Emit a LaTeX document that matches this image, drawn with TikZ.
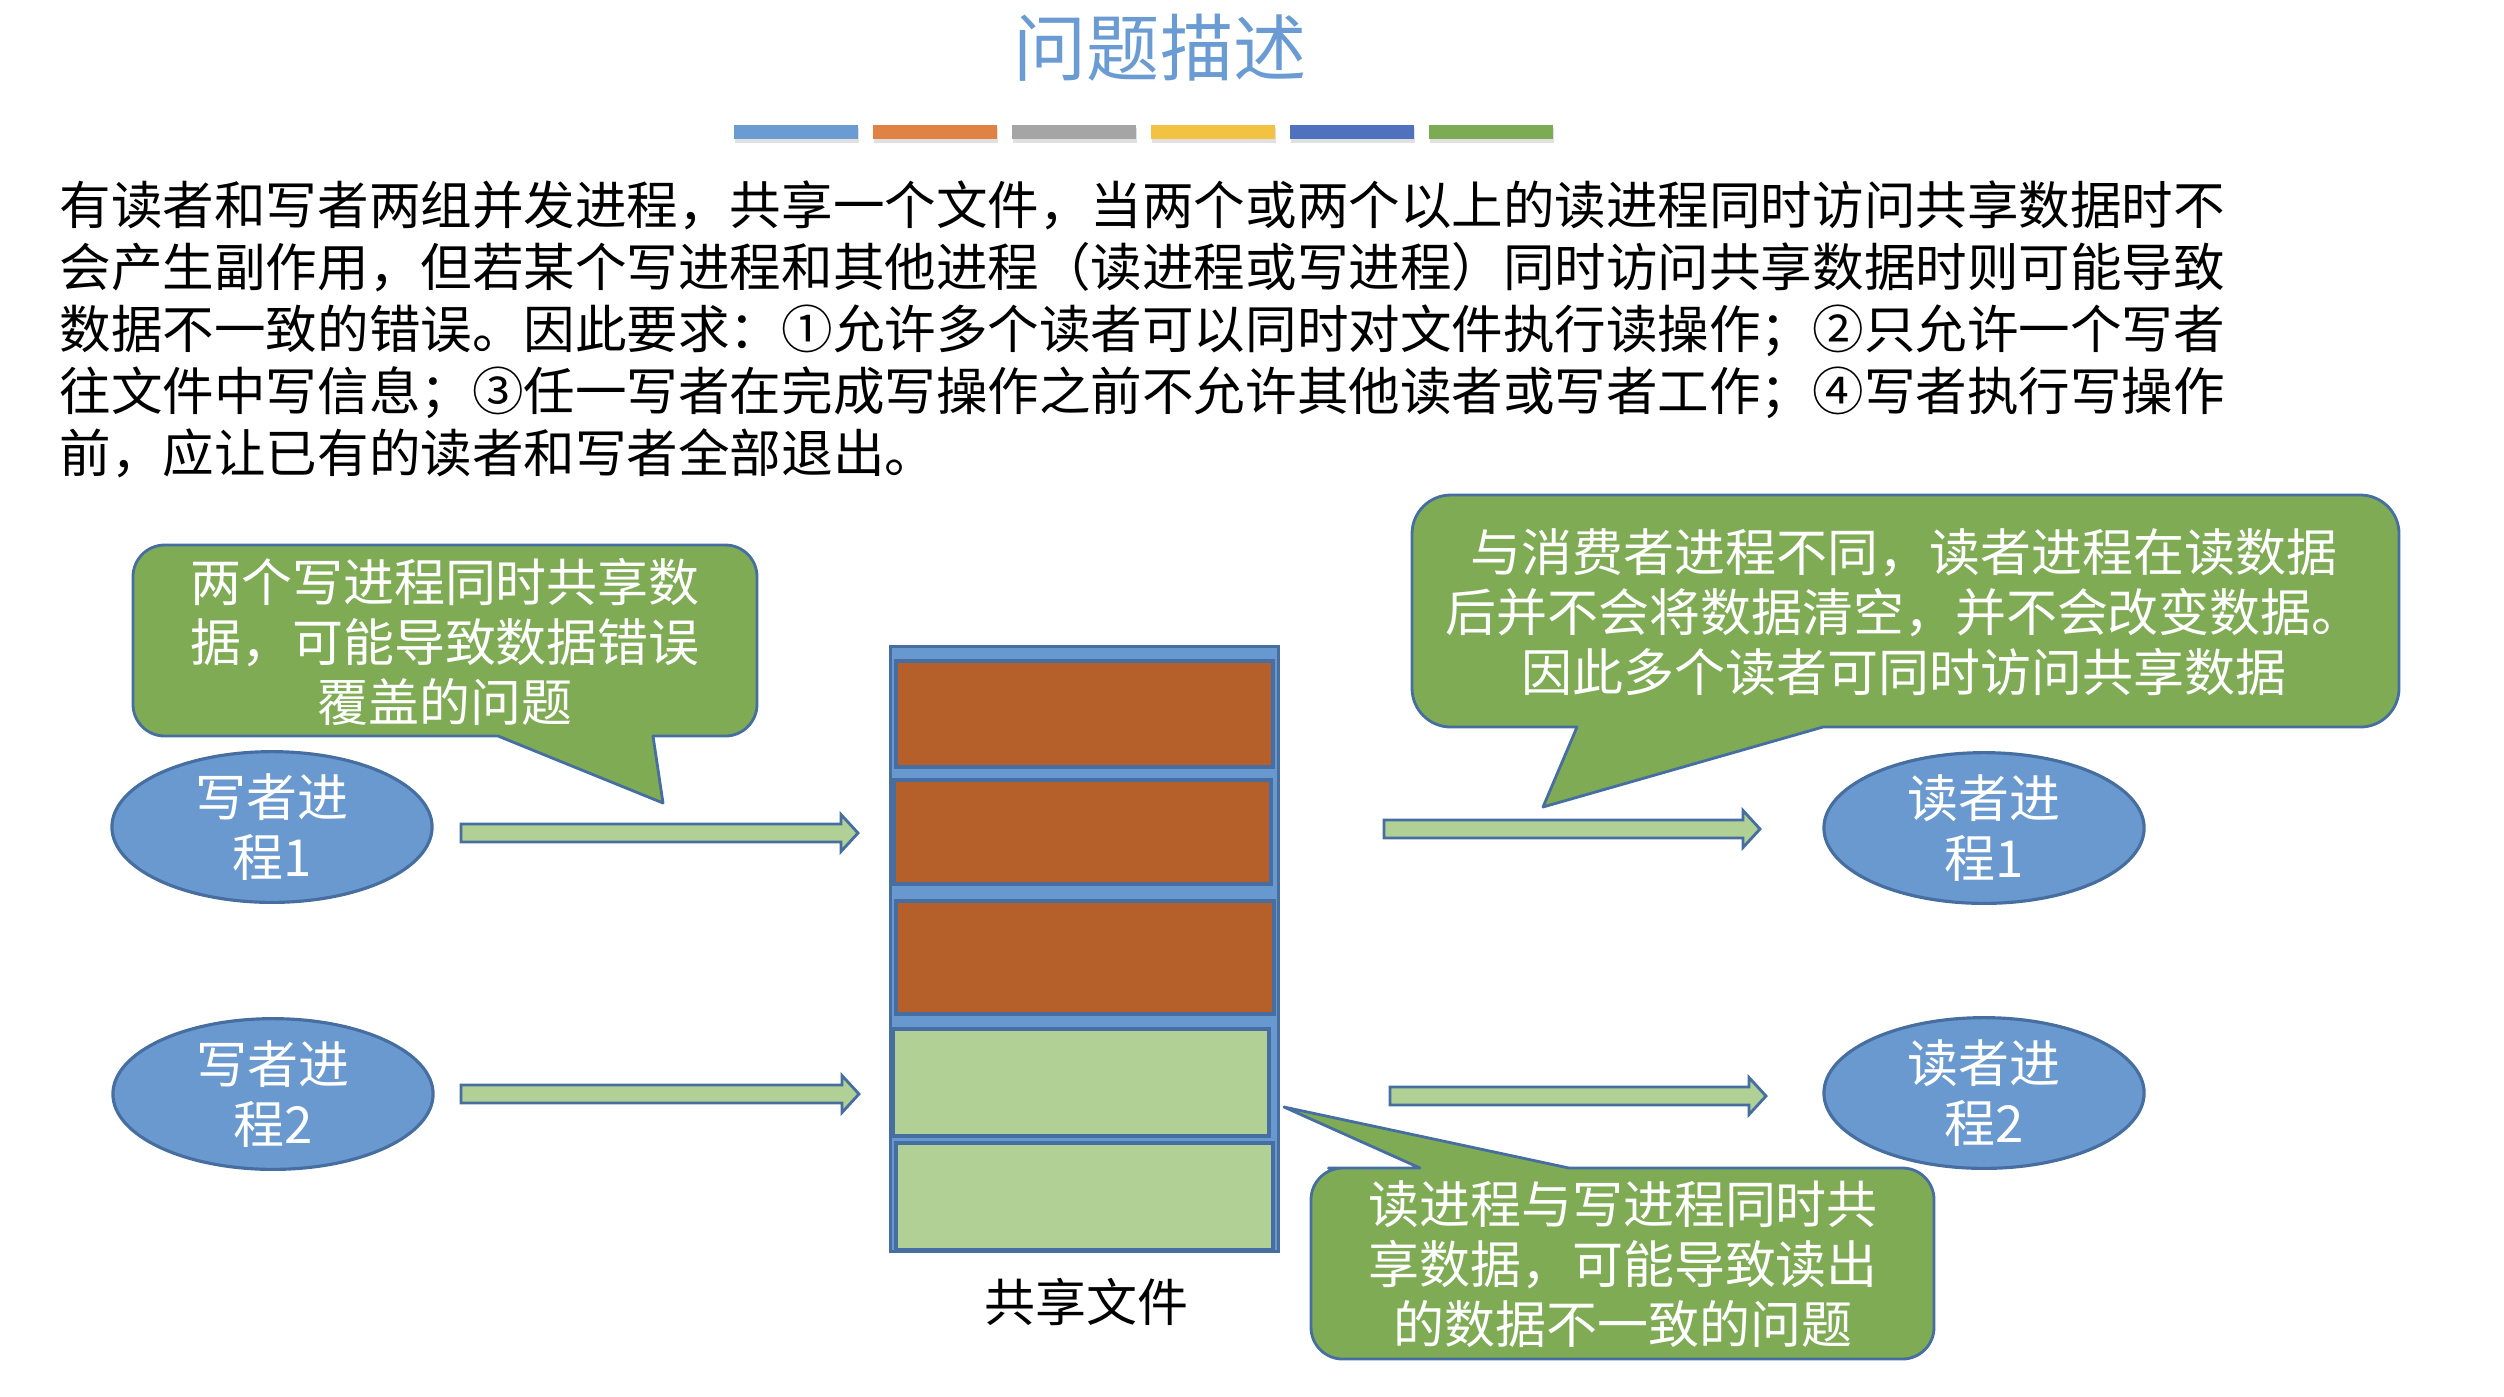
\documentclass[tikz,border=0pt]{standalone}
\usepackage{fontspec}
\setmainfont{Noto Sans CJK SC}
\usetikzlibrary{shapes.geometric,calc}
\definecolor{titleblue}{RGB}{106,155,210}
\definecolor{barA}{RGB}{106,155,210}
\definecolor{barB}{RGB}{224,130,67}
\definecolor{barC}{RGB}{165,165,165}
\definecolor{barD}{RGB}{243,194,66}
\definecolor{barE}{RGB}{79,113,190}
\definecolor{barF}{RGB}{125,171,84}
\definecolor{callgreen}{RGB}{127,171,85}
\definecolor{edgeblue}{RGB}{70,110,160}
\definecolor{ellblue}{RGB}{106,153,207}
\definecolor{arrgreen}{RGB}{176,208,150}
\definecolor{filebrown}{RGB}{181,96,43}
\definecolor{slotgreen}{RGB}{177,208,150}
\definecolor{stackblue}{RGB}{104,152,208}
\newcommand\blockarrow[2]{%
  \draw[barrowsty] ($(#1)+(0,-9)$) -- ($(#2)+(-17,-9)$) -- ($(#2)+(-17,-18.5)$)
    -- (#2) -- ($(#2)+(-17,18.5)$) -- ($(#2)+(-17,9)$) -- ($(#1)+(0,9)$) -- cycle;}
\begin{document}
\begin{tikzpicture}[x=0.01cm,y=-0.01cm,
  txt/.style={font=\fontsize{14.5}{17}\selectfont, inner sep=0pt, align=center},
  wtxt/.style={txt, text=white},
  ptxt/.style={font=\fontsize{14.66}{17.6}\selectfont, inner sep=0pt, anchor=base west},
  proc/.style={ellipse, draw=edgeblue, line width=0.9pt, fill=ellblue,
    minimum width=3.2cm, minimum height=1.46cm, inner sep=0pt, text=white,
    font=\fontsize{14.5}{17}\selectfont, align=center},
  callout/.style={fill=callgreen, draw=edgeblue, line width=0.8pt, line join=round},
  barrowsty/.style={fill=arrgreen, draw=edgeblue, line width=0.8pt, line join=miter},
  slot/.style={draw=edgeblue, line width=1pt},
  colorbar/.style={minimum width=1.24cm, minimum height=0.14cm, inner sep=0pt, anchor=north west}
]
\useasboundingbox (0,0) rectangle (2504,1396);

% title
\node[font=\fontsize{20.8}{24}\selectfont, text=titleblue, inner sep=0pt] (title) at (1160,48) {问题描述};

% colour bars
\foreach \c [count=\i from 0] in {barA,barB,barC,barD,barE,barF}{
  \fill[black, opacity=0.12] ({735+139*\i},128) rectangle ({735+139*\i+124},143);
  \node[colorbar, fill=\c] (bar\i) at ({733+139*\i},124) {};
}

% paragraph
\node[ptxt] (p1) at (59,224) {有读者和写者两组并发进程，共享一个文件，当两个或两个以上的读进程同时访问共享数据时不};
\node[ptxt] (p2) at (59,286) {会产生副作用，但若某个写进程和其他进程（读进程或写进程）同时访问共享数据时则可能导致};
\node[ptxt] (p3) at (59,348) {数据不一致的错误。因此要求：①允许多个读者可以同时对文件执行读操作；②只允许一个写者};
\node[ptxt] (p4) at (59,410) {往文件中写信息；③任一写者在完成写操作之前不允许其他读者或写者工作；④写者执行写操作};
\node[ptxt] (p5) at (59,472) {前，应让已有的读者和写者全部退出。};

% left callout
\draw[callout] (700,736) [rounded corners=9pt] -- (757,736) -- (757,545) -- (133,545) -- (133,736) -- (300,736)
  [sharp corners] -- (498,736) -- (663,803) -- (653,736) -- cycle;
\node[wtxt] (c1) at (445,642) {两个写进程同时共享数\\据，可能导致数据错误\\覆盖的问题};

% right callout
\draw[callout] (2000,727) [rounded corners=11pt] -- (2399,727) -- (2399,495) -- (1412,495) -- (1412,727) -- (1500,727)
  [sharp corners] -- (1577,727) -- (1543,807) -- (1823,727) -- cycle;
\node[wtxt] (c2) at (1904,612) {与消费者进程不同，读者进程在读数据\\后并不会将数据清空，并不会改变数据。\\因此多个读者可同时访问共享数据};

% bottom callout
\draw[callout] (1800,1168) [rounded corners=9pt] -- (1934,1168) -- (1934,1359) -- (1311,1359) -- (1311,1168) -- (1360,1168)
  [sharp corners] -- (1420,1168) -- (1284,1107) -- (1569,1168) -- cycle;
\node[wtxt] (c3) at (1623,1264) {读进程与写进程同时共\\享数据，可能导致读出\\的数据不一致的问题};

% processes
\node[proc] (w1) at (272,827) {写者进\\程1};
\node[proc] (w2) at (273,1094) {写者进\\程2};
\node[proc] (r1) at (1984,828) {读者进\\程1};
\node[proc] (r2) at (1984,1093) {读者进\\程2};

% shared file stack
\node[draw=edgeblue, line width=0.8pt, fill=stackblue, minimum width=3.87cm, minimum height=6.04cm, inner sep=0pt] (file) at (1084.5,949) {};
\draw[slot, fill=filebrown] (896,661) rectangle (1273,767);
\draw[slot, fill=filebrown] (894,780) rectangle (1271,884);
\draw[slot, fill=filebrown] (896,901) rectangle (1274,1014);
\draw[slot, fill=slotgreen] (893,1029) rectangle (1269,1136);
\draw[slot, fill=slotgreen] (896,1143) rectangle (1273,1250);
\node[txt] (filelbl) at (1086,1302) {共享文件};

% block arrows
\coordinate (a1s) at (461,833);  \coordinate (a1e) at (858,833);
\coordinate (a2s) at (461,1094); \coordinate (a2e) at (859,1094);
\coordinate (a3s) at (1384,829); \coordinate (a3e) at (1760,829);
\coordinate (a4s) at (1390,1096); \coordinate (a4e) at (1766,1096);
\blockarrow{a1s}{a1e}
\blockarrow{a2s}{a2e}
\blockarrow{a3s}{a3e}
\blockarrow{a4s}{a4e}
\end{tikzpicture}
\end{document}
